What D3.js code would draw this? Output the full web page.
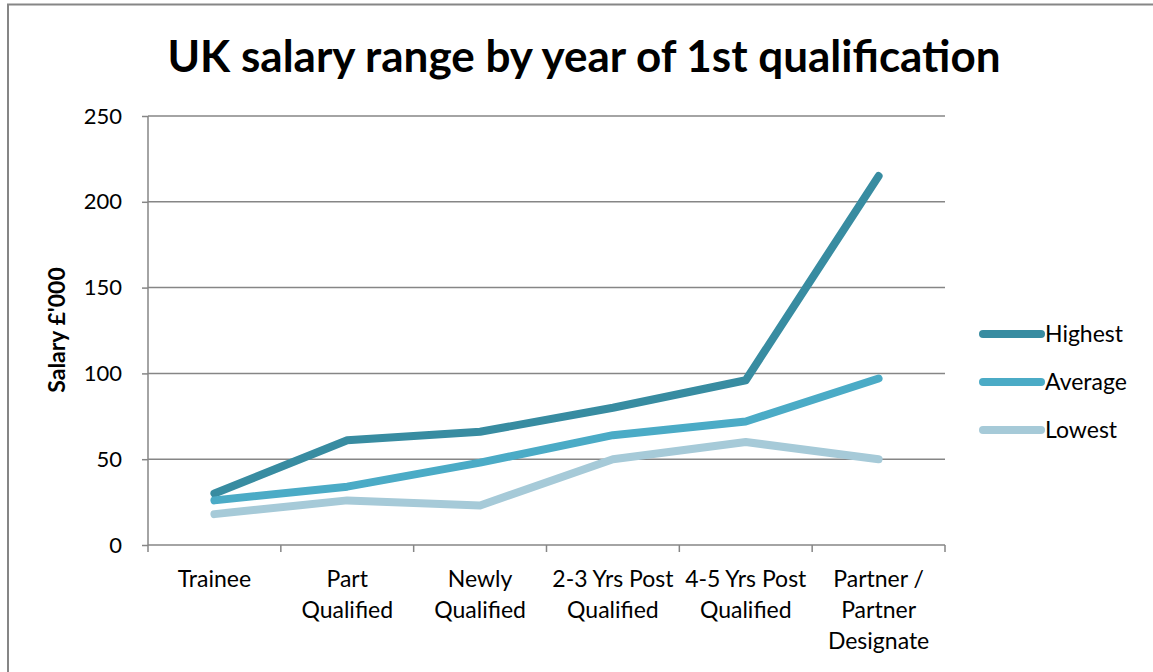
<!DOCTYPE html>
<html>
<head>
<meta charset="utf-8">
<script src="https://cdn.jsdelivr.net/npm/d3@7"></script>
<style>
  body { margin: 0; background: #fff; }
  text { font-family: Lato, "Open Sans", sans-serif; fill: #000; }
</style>
</head>
<body>
<div id="chart"></div>
<script>
// chart values
var categories = ["Trainee", "Part Qualified", "Newly Qualified", "2-3 Yrs Post Qualified", "4-5 Yrs Post Qualified", "Partner / Partner Designate"]
var catLines = [["Trainee"], ["Part", "Qualified"], ["Newly", "Qualified"], ["2-3 Yrs Post", "Qualified"], ["4-5 Yrs Post", "Qualified"], ["Partner /", "Partner", "Designate"]]
var highest = [30, 61, 66, 80, 96, 215]
var average = [26, 34, 48, 64, 72, 97]
var lowest = [18, 26, 23, 50, 60, 50]
var seriesNames = ["Highest", "Average", "Lowest"]
var yTicks = [0, 50, 100, 150, 200, 250]

const W = 1153, H = 672
const margin = {top: 116, right: 208, bottom: 127, left: 148}
const width = W - margin.left - margin.right, height = H - margin.top - margin.bottom
var colors = ["#388ca1", "#4babc6", "#a6cad8"]
var series = [highest, average, lowest]

var svg = d3.select("#chart").append("svg").attr("width", W).attr("height", H)

// outer frame (only top and left edges show in the picture)
svg.append("line").attr("x1", 7).attr("x2", W).attr("y1", 4.5).attr("y2", 4.5).attr("stroke", "#868686").attr("stroke-width", 2)
svg.append("line").attr("x1", 8).attr("x2", 8).attr("y1", 4).attr("y2", H).attr("stroke", "#868686").attr("stroke-width", 2)

svg.append("text").attr("x", 584).attr("y", 72).attr("text-anchor", "middle")
    .style("font-size", "44px").style("font-weight", "bold").text("UK salary range by year of 1st qualification")

var g = svg.append("g").attr("transform", "translate(" + margin.left + "," + margin.top + ")")

var x = d3.scaleBand().domain(categories).range([0, width])
var y = d3.scaleLinear().domain([0, 250]).range([height, 0])

// gridlines
g.selectAll(".grid").data(yTicks.slice(1)).enter().append("line")
    .attr("x1", 0).attr("x2", width).attr("y1", d => y(d)).attr("y2", d => y(d))
    .attr("stroke", "#868686").attr("stroke-width", 1.5)

// y axis
var yAxis = g.append("g").call(d3.axisLeft(y).tickValues(yTicks).tickSize(6).tickPadding(20))
yAxis.select(".domain").attr("stroke", "#868686").attr("stroke-width", 1.5).attr("d", "M0," + height + "V0")
yAxis.selectAll(".tick line").attr("stroke", "#868686").attr("stroke-width", 1.5)
yAxis.selectAll("text").style("font-size", "22px").style("font-family", "Lato, 'Open Sans', sans-serif")

// x axis, ticks on the band edges
var xAxis = g.append("g").attr("transform", "translate(0," + height + ")")
xAxis.append("line").attr("x1", 0).attr("x2", width).attr("stroke", "#868686").attr("stroke-width", 1.5)
var edges = categories.map(d => x(d)).concat([width])
xAxis.selectAll(".xt").data(edges).enter().append("line")
    .attr("x1", d => d).attr("x2", d => d).attr("y1", 0).attr("y2", 7).attr("stroke", "#868686").attr("stroke-width", 1.5)
var xl = xAxis.selectAll(".xl").data(categories).enter().append("text")
    .attr("text-anchor", "middle").attr("transform", d => "translate(" + (x(d) + x.bandwidth() / 2) + ",42)")
    .style("font-size", "23px")
xl.each(function (d, i) {
    d3.select(this).selectAll("tspan").data(catLines[i]).enter().append("tspan")
        .attr("x", 0).attr("dy", (t, k) => k == 0 ? 0 : 31).text(t => t)
})

svg.append("text").attr("transform", "translate(65,330) rotate(-90)").attr("text-anchor", "middle")
    .style("font-size", "23px").style("font-weight", "bold").text("Salary £'000")

// lines
var line = d3.line().x((d, i) => x(categories[i]) + x.bandwidth() / 2).y(d => y(d))
g.selectAll(".series").data(series).enter().append("path")
    .attr("d", d => line(d)).attr("fill", "none").attr("stroke", (d, i) => colors[i])
    .attr("stroke-width", 8).attr("stroke-linecap", "round").attr("stroke-linejoin", "round")

// legend
var legend = svg.append("g").attr("transform", "translate(983,334)")
legend.selectAll("line").data(seriesNames).enter().append("line")
    .attr("x1", 0).attr("x2", 58).attr("y1", (d, i) => i * 48).attr("y2", (d, i) => i * 48)
    .attr("stroke", (d, i) => colors[i]).attr("stroke-width", 8).attr("stroke-linecap", "round")
legend.selectAll("text").data(seriesNames).enter().append("text")
    .attr("x", 62).attr("y", (d, i) => i * 48).attr("dy", "0.35em").style("font-size", "23px").text(d => d)
</script>
</body>
</html>
